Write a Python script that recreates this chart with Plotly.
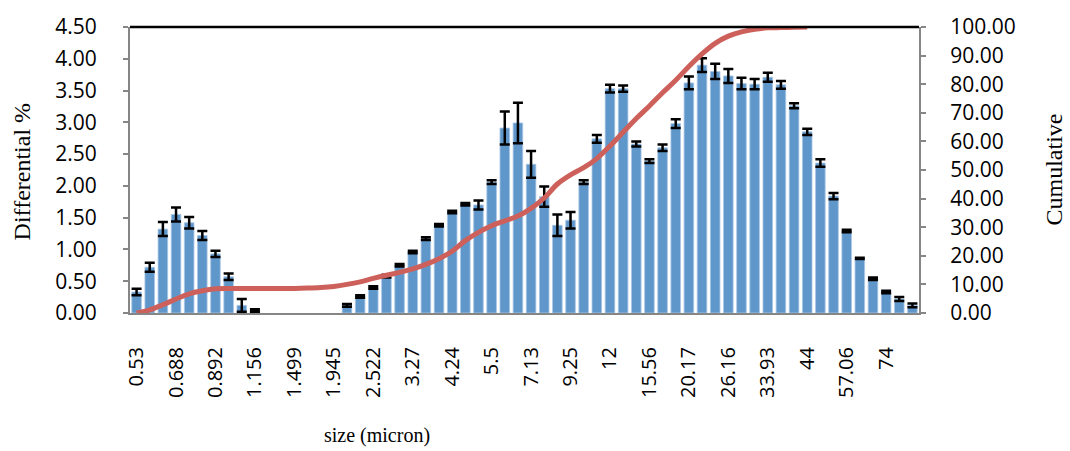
import plotly.graph_objects as go

# Size classes (micron), geometric bins
sizes = ["0.53", "0.578", "0.631", "0.688", "0.75", "0.818", "0.892", "0.973", "1.061", "1.156",
         "1.261", "1.375", "1.499", "1.635", "1.783", "1.945", "2.121", "2.313", "2.522", "2.75",
         "3", "3.27", "3.57", "3.89", "4.24", "4.62", "5.04", "5.5", "6", "6.54",
         "7.13", "7.78", "8.48", "9.25", "10.09", "11", "12", "13.08", "14.27", "15.56",
         "16.97", "18.5", "20.17", "22", "23.99", "26.16", "28.53", "31.11", "33.93", "37",
         "40.35", "44", "47.98", "52.33", "57.06", "62.23", "67.86", "74", "80.7", "88"]

# Differential distribution (%)
differential = [0.33, 0.72, 1.32, 1.55, 1.42, 1.22, 0.93, 0.57, 0.12, 0.04,
                None, None, None, None, None, None, 0.12, 0.26, 0.40, 0.58,
                0.75, 0.96, 1.17, 1.38, 1.59, 1.71, 1.70, 2.06, 2.91, 2.99,
                2.34, 1.83, 1.38, 1.46, 2.06, 2.74, 3.53, 3.53, 2.66, 2.39,
                2.60, 2.98, 3.62, 3.90, 3.80, 3.73, 3.61, 3.60, 3.71, 3.59,
                3.26, 2.85, 2.36, 1.84, 1.29, 0.86, 0.54, 0.33, 0.22, 0.12]

# Standard deviation of the differential values
diff_error = [0.05, 0.07, 0.11, 0.11, 0.09, 0.07, 0.05, 0.05, 0.10, 0.02,
              None, None, None, None, None, None, 0.02, 0.02, 0.02, 0.02,
              0.02, 0.02, 0.02, 0.02, 0.02, 0.02, 0.07, 0.03, 0.26, 0.32,
              0.21, 0.16, 0.17, 0.13, 0.03, 0.06, 0.06, 0.05, 0.04, 0.03,
              0.05, 0.07, 0.10, 0.11, 0.12, 0.11, 0.09, 0.08, 0.07, 0.06,
              0.04, 0.05, 0.06, 0.05, 0.02, 0.01, 0.02, 0.02, 0.03, 0.03]

# Cumulative distribution (%)
cumulative = [0.0, 1.1, 2.9, 4.9, 6.7, 7.8, 8.5, 8.6, 8.6, 8.6,
              8.6, 8.6, 8.6, 8.7, 8.9, 9.3, 10.0, 10.9, 12.1, 13.2,
              14.2, 15.4, 17.0, 19.0, 21.6, 25.3, 28.2, 30.5, 32.2, 33.9,
              36.6, 40.2, 45.1, 48.3, 50.8, 54.0, 58.4, 63.2, 68.0, 72.4,
              77.0, 81.4, 86.2, 90.6, 94.3, 96.8, 98.3, 99.2, 99.7, 99.8,
              99.9, 100.0, None, None, None, None, None, None, None, None]

# Every third size class carries a tick label
tick_labels = sizes[::3]

x_tick_font = dict(family="Open Sans", size=20, color="#000000")
y_tick_font = dict(family="Open Sans", size=21, color="#000000")
title_font = dict(family="Liberation Serif", color="#000000")

fig = go.Figure()

fig.add_trace(go.Bar(
    x=sizes,
    y=differential,
    marker=dict(color="#6097CB", line=dict(color="#A9C6E4", width=0.8)),
    error_y=dict(type="data", array=diff_error, visible=True,
                 color="#000000", thickness=2.5, width=5),
    yaxis="y",
    showlegend=False,
))

fig.add_trace(go.Scatter(
    x=sizes,
    y=cumulative,
    mode="lines",
    line=dict(color="#CD605A", width=5, shape="spline", smoothing=1.0),
    yaxis="y2",
    connectgaps=False,
    showlegend=False,
))

axis_gray = "#868686"

fig.update_layout(
    width=1070,
    height=451,
    margin=dict(l=130, r=151, t=23, b=138),
    paper_bgcolor="#FFFFFF",
    plot_bgcolor="#FFFFFF",
    bargap=0.27,
    xaxis=dict(
        type="category",
        categoryorder="array",
        categoryarray=sizes,
        tickmode="array",
        tickvals=tick_labels,
        ticktext=tick_labels,
        tickangle=-90,
        tickfont=x_tick_font,
        ticks="",
        ticklabelstandoff=24,
        showline=True,
        linecolor=axis_gray,
        linewidth=2,
        showgrid=False,
        zeroline=False,
    ),
    yaxis=dict(
        range=[0, 4.5],
        tickmode="linear",
        tick0=0,
        dtick=0.5,
        tickformat=".2f",
        tickfont=y_tick_font,
        ticks="outside",
        ticklen=5,
        tickwidth=2,
        tickcolor=axis_gray,
        ticklabelstandoff=22,
        showline=True,
        linecolor=axis_gray,
        linewidth=2,
        showgrid=False,
        zeroline=False,
    ),
    yaxis2=dict(
        range=[0, 100],
        overlaying="y",
        side="right",
        tickmode="linear",
        tick0=0,
        dtick=10,
        tickformat=".2f",
        tickfont=y_tick_font,
        ticks="outside",
        ticklen=5,
        tickwidth=2,
        tickcolor=axis_gray,
        ticklabelstandoff=20,
        showline=True,
        linecolor=axis_gray,
        linewidth=2,
        showgrid=False,
        zeroline=False,
    ),
    shapes=[dict(type="line", xref="paper", yref="paper", x0=0, x1=1, y0=1, y1=1,
                 line=dict(color="#000000", width=2.5), layer="above")],
    annotations=[
        dict(text="Differential %", xref="paper", yref="paper", x=-0.1369, y=0.495,
             textangle=-90, showarrow=False, font=dict(size=24, **title_font),
             xanchor="center", yanchor="middle"),
        dict(text="Cumulative", xref="paper", yref="paper", x=1.1712, y=0.502,
             textangle=-90, showarrow=False, font=dict(size=24, **title_font),
             xanchor="center", yanchor="middle"),
        dict(text="size (micron)", xref="paper", yref="paper", x=0.3131, y=-0.4293,
             showarrow=False, font=dict(size=20, **title_font),
             xanchor="center", yanchor="middle"),
    ],
)

fig.write_html("out.html")
